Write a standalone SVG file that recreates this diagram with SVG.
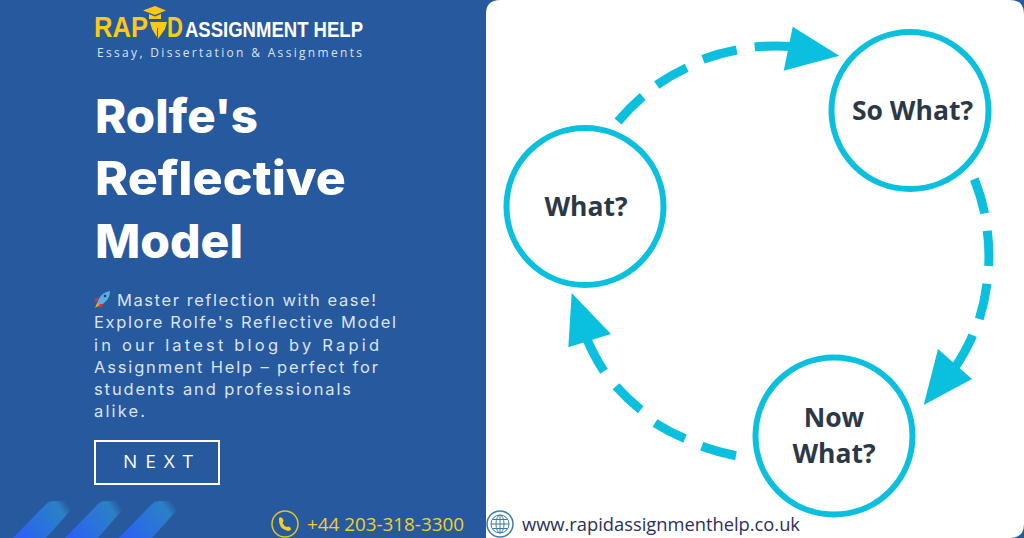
<svg xmlns="http://www.w3.org/2000/svg" width="1024" height="538" viewBox="0 0 1024 538">
<style>
.title{font:800 47px "Inter","DejaVu Sans",sans-serif;fill:#fff}
.body{font:400 16.500px "Inter","Open Sans","Liberation Sans",sans-serif;fill:#d9e3f1}
.node{fill:#fff;stroke:#0bc0de;stroke-width:6}
.lbl{font:700 26.500px "Open Sans","Liberation Sans",sans-serif;fill:#2b3947;text-anchor:middle}
.dash{fill:none;stroke:#0bc0de;stroke-width:9}
.head{fill:#0bc0de}
.logo{font-family:"Liberation Sans Narrow","Liberation Sans",sans-serif;font-weight:700}
.foot{font:400 19px "Open Sans","Liberation Sans",sans-serif}
</style>
<defs>
<linearGradient id="stripe" x1="0" y1="0.9" x2="1" y2="0.5">
<stop offset="0" stop-color="#2a5ff8"/><stop offset="0.45" stop-color="#2a72dc"/><stop offset="0.85" stop-color="#2b80c6"/><stop offset="1" stop-color="#27599f"/>
</linearGradient>
</defs>
<rect width="1024" height="538" fill="#27599f"/>
<path d="M500 0H1010Q1024 0 1024 14V524Q1024 538 1010 538H486V14Q486 0 500 0Z" fill="#fff"/>
<g id="stripes" fill="url(#stripe)">
<path d="M13 538L46 504Q49 501 53 501H79L46 538Z"/>
<path d="M65 538L98 504Q101 501 105 501H130L98 538Z"/>
<path d="M119 538L152 504Q155 501 159 501H185L152 538Z"/>
</g>
<g id="logo">
<text class="logo" x="94" y="37" font-size="29" fill="#fcc917" textLength="54" lengthAdjust="spacingAndGlyphs">RAP</text>
<path d="M150 22L167 22L165 29L158 39L152 29Z" fill="#fcc917"/>
<path d="M157.500 28V38" stroke="#27599f" stroke-width="1"/>
<path d="M143 10.500L155 6L166 10.500L155 15Z" fill="#fcc917"/>
<path d="M149 14L155 16.500L161 14V19H149Z" fill="#fcc917"/>
<text class="logo" transform="translate(167 37) scale(.76 1)" font-size="29" fill="#fcc917">D</text>
<text class="logo" x="185" y="37" font-size="22.500" fill="#fff" textLength="178" lengthAdjust="spacingAndGlyphs">ASSIGNMENT HELP</text>
<text x="97" y="57" font-family="Open Sans,Liberation Sans,sans-serif" font-size="12" fill="#d9e3f1" textLength="265">Essay, Dissertation &amp; Assignments</text>
</g>
<g id="title">
<text class="title" x="95" y="133" textLength="163" lengthAdjust="spacingAndGlyphs">Rolfe's</text>
<text class="title" x="95" y="195" textLength="251" lengthAdjust="spacingAndGlyphs">Reflective</text>
<text class="title" x="95" y="258" textLength="148" lengthAdjust="spacingAndGlyphs">Model</text>
</g>
<g id="rocket">
<path d="M110 291Q102 292 98 300L97 304L102 305L105 302Q110 298 110 291Z" fill="#5dade2"/>
<path d="M99 297L95 299L94 302L98 301ZM103 304L102 307L99 308L100 304Z" fill="#c9343f"/>
<path d="M97 303L100 305L95 308Z" fill="#f6a623"/>
<circle cx="105" cy="296" r="1.300" fill="#1d3f66"/>
</g>
<g id="body">
<text class="body" x="117" y="306" textLength="259">Master reflection with ease!</text>
<text class="body" x="94" y="328" textLength="302">Explore Rolfe's Reflective Model</text>
<text class="body" x="94" y="351" textLength="285">in our latest blog by Rapid</text>
<text class="body" x="94" y="373" textLength="284">Assignment Help – perfect for</text>
<text class="body" x="94" y="395" textLength="257">students and professionals</text>
<text class="body" x="94" y="417" textLength="51">alike.</text>
</g>
<g id="next">
<rect x="95" y="441" width="124" height="43" fill="none" stroke="#fff" stroke-width="2"/>
<text x="123" y="468" font-family="Open Sans,Liberation Sans,sans-serif" font-size="19" fill="#fff" textLength="70">NEXT</text>
</g>
<g id="phone">
<circle cx="285" cy="524" r="13" fill="none" stroke="#e6c21f" stroke-width="1.500"/>
<path d="M279 518Q281 516 283 519L283.500 521L282.500 523Q284 526 286.500 527L288.500 526.500L291 528Q291 531 288 531Q278 529 279 518Z" fill="#f5d020"/>
<text class="foot" x="307" y="531" fill="#f3d024" textLength="157" lengthAdjust="spacingAndGlyphs">+44 203-318-3300</text>
</g>
<g id="web">
<circle cx="500" cy="524" r="13" fill="#fff" stroke="#3d7ca8" stroke-width="1.500"/>
<g fill="none" stroke="#3d7ca8" stroke-width="1">
<circle cx="500" cy="524" r="9"/><ellipse cx="500" cy="524" rx="4" ry="9"/>
<path d="M491 524H509M492.500 519.500H507.500M492.500 528.500H507.500M500 515V533"/>
</g>
<text class="foot" x="522" y="531" fill="#2b2f5e" textLength="278" lengthAdjust="spacingAndGlyphs">www.rapidassignmenthelp.co.uk</text>
</g>
<g id="connectors">
<path class="dash" d="M618 121.500A205 205 0 0 1 642.700 96.500M656.700 85A205 205 0 0 1 686.700 67.700M703 59.300A205 205 0 0 1 736.700 50M754.700 47A205 205 0 0 1 792 46.500"/>
<polygon class="head" points="839.300,55.700 792.700,26.700 783.700,70.700"/>
<path class="dash" d="M974.300 179A205 205 0 0 1 984.700 213.300M987.300 230.700A205 205 0 0 1 988.700 266M987 283.700A205 205 0 0 1 979.300 319M972.700 335.300A205 205 0 0 1 954 369"/>
<polygon class="head" points="923.700,405 938,349 972,379"/>
<path class="dash" d="M736 455.700A205 205 0 0 1 701.700 446.300M685 438.700A205 205 0 0 1 655 423M640.700 409.700A205 205 0 0 1 616 386.300M604 371.300A205 205 0 0 1 586 337"/>
<polygon class="head" points="571.700,293 611,334 568.300,347.300"/>
</g>
<g id="what"><circle class="node" cx="585" cy="206.500" r="78.500"/><text class="lbl" x="586" y="216">What?</text></g>
<g id="so-what"><circle class="node" cx="910" cy="110.500" r="78.500"/><text class="lbl" x="912.500" y="120">So What?</text></g>
<g id="now-what"><circle class="node" cx="834" cy="436" r="78.500"/><text class="lbl" x="834" y="427">Now</text><text class="lbl" x="834" y="463">What?</text></g>
</svg>
